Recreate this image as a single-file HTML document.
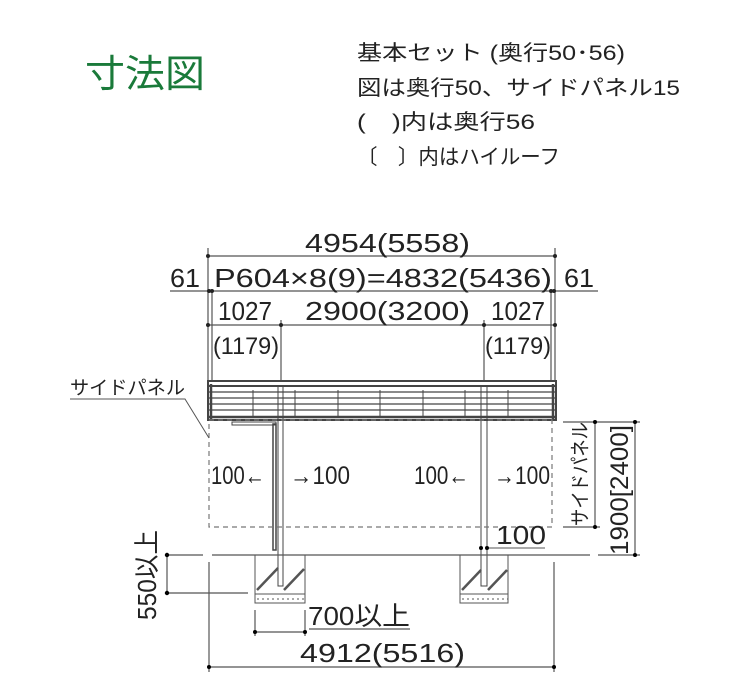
<!DOCTYPE html>
<html><head><meta charset="utf-8"><style>
html,body{margin:0;padding:0;background:#fff}
svg{display:block}
text{font-family:"Liberation Sans","Noto Sans CJK JP",sans-serif;fill:#222}
</style></head><body>
<svg width="750" height="700" viewBox="0 0 750 700" xmlns="http://www.w3.org/2000/svg">
<text x="85" y="87" font-size="38" textLength="120" lengthAdjust="spacingAndGlyphs" style="fill:#1a7a3a">寸法図</text>
<g font-size="21" style="fill:#333">
<text x="357" y="60" textLength="268" lengthAdjust="spacingAndGlyphs">基本セット (奥行50･56)</text>
<text x="357" y="95" textLength="323" lengthAdjust="spacingAndGlyphs">図は奥行50、サイドパネル15</text>
<text x="357" y="129" textLength="178" lengthAdjust="spacingAndGlyphs">(　)内は奥行56</text>
<text x="357" y="164" textLength="203" lengthAdjust="spacingAndGlyphs">〔　〕内はハイルーフ</text>
</g>
<g stroke="#555" stroke-width="1.2" fill="none">
<line x1="208" y1="248" x2="208" y2="380"/>
<line x1="555" y1="248" x2="555" y2="380"/>
<line x1="212" y1="292" x2="212" y2="380"/>
<line x1="551" y1="292" x2="551" y2="380"/>
<line x1="281" y1="320" x2="281" y2="380"/>
<line x1="484" y1="320" x2="484" y2="380"/>
<line x1="208" y1="256" x2="555" y2="256"/>
<line x1="170" y1="291" x2="598" y2="291"/>
<line x1="208" y1="325" x2="555" y2="325"/>
</g>
<g fill="#222">
<circle cx="208" cy="256" r="2"/><circle cx="555" cy="256" r="2"/>
<circle cx="209" cy="291" r="2"/><circle cx="212" cy="291" r="2"/><circle cx="551" cy="291" r="2"/><circle cx="554" cy="291" r="2"/>
<circle cx="208" cy="325" r="2"/><circle cx="281" cy="325" r="2"/><circle cx="484" cy="325" r="2"/><circle cx="555" cy="325" r="2"/>
</g>
<g font-size="26">
<text x="305" y="252" textLength="165" lengthAdjust="spacingAndGlyphs">4954(5558)</text>
<text x="214" y="287" textLength="338" lengthAdjust="spacingAndGlyphs">P604×8(9)=4832(5436)</text>
<text x="170" y="287" textLength="30" lengthAdjust="spacingAndGlyphs">61</text>
<text x="564" y="287" textLength="30" lengthAdjust="spacingAndGlyphs">61</text>
<text x="218" y="320" textLength="54" lengthAdjust="spacingAndGlyphs">1027</text>
<text x="305" y="320" textLength="165" lengthAdjust="spacingAndGlyphs">2900(3200)</text>
<text x="491" y="320" textLength="54" lengthAdjust="spacingAndGlyphs">1027</text>
<text x="213" y="354" font-size="24" textLength="66" lengthAdjust="spacingAndGlyphs">(1179)</text>
<text x="485" y="354" font-size="24" textLength="66" lengthAdjust="spacingAndGlyphs">(1179)</text>
</g>
<g stroke="#444" fill="none">
<rect x="208" y="381" width="348" height="39" stroke-width="2"/>
<line x1="208" y1="386" x2="556" y2="386" stroke-width="2"/>
<line x1="208" y1="392" x2="556" y2="392" stroke-width="1.3"/>
<line x1="208" y1="398" x2="556" y2="398" stroke-width="1.3"/>
<line x1="208" y1="404" x2="556" y2="404" stroke-width="1.3"/>
<line x1="208" y1="410" x2="556" y2="410" stroke-width="1.3"/>
<line x1="208" y1="417" x2="556" y2="417" stroke-width="2.5"/>
<line x1="211" y1="384" x2="211" y2="420" stroke-width="2.5"/>
<line x1="553" y1="384" x2="553" y2="420" stroke-width="2.5"/>
<line x1="253" y1="390" x2="253" y2="418"/><line x1="295" y1="390" x2="295" y2="418"/>
<line x1="338" y1="390" x2="338" y2="418"/><line x1="380" y1="390" x2="380" y2="418"/>
<line x1="423" y1="390" x2="423" y2="418"/><line x1="465" y1="390" x2="465" y2="418"/>
<line x1="508" y1="390" x2="508" y2="418"/>
<rect x="278" y="386" width="5" height="200"/>
<rect x="481" y="386" width="6" height="200"/>
<rect x="273" y="424" width="3" height="126" stroke-width="1.5"/>
<path d="M232 422 h44 v3 h-44z"/>
</g>
<rect x="209" y="420" width="343" height="107" fill="none" stroke="#777" stroke-width="1.2" stroke-dasharray="5,4"/>
<g font-size="25">
<text x="211" y="484" textLength="54" lengthAdjust="spacingAndGlyphs">100←</text>
<text x="290" y="484" textLength="60" lengthAdjust="spacingAndGlyphs">→100</text>
<text x="414" y="484" textLength="55" lengthAdjust="spacingAndGlyphs">100←</text>
<text x="494" y="484" textLength="56" lengthAdjust="spacingAndGlyphs">→100</text>
<text x="496" y="544" font-size="26" textLength="50" lengthAdjust="spacingAndGlyphs">100</text>
</g>
<line x1="487" y1="548" x2="545" y2="548" stroke="#555"/>
<circle cx="481" cy="548" r="2"/><circle cx="487" cy="548" r="2"/>
<text x="70" y="394" font-size="19" textLength="115" lengthAdjust="spacingAndGlyphs">サイドパネル</text>
<polyline points="70,399 185,399 209,438" fill="none" stroke="#555"/>
<g stroke="#555" stroke-width="1.2">
<line x1="167" y1="555" x2="203" y2="555"/>
<line x1="212" y1="555" x2="590" y2="555"/>
<line x1="598" y1="555" x2="640" y2="555"/>
<line x1="167" y1="593" x2="248" y2="593"/>
<line x1="167" y1="555" x2="167" y2="593"/>
</g>
<circle cx="167" cy="555" r="2.2"/><circle cx="167" cy="593" r="2.2"/>
<text transform="translate(156,575) rotate(-90)" font-size="26" text-anchor="middle" textLength="90" lengthAdjust="spacingAndGlyphs">550以上</text>
<g stroke="#555" fill="none">
<polyline points="255,555 255,603 305,603 305,555"/>
<line x1="255" y1="594" x2="305" y2="594"/>
<line x1="257" y1="590" x2="278" y2="568" stroke-width="2.5"/>
<line x1="284" y1="590" x2="304" y2="569" stroke-width="2.5"/>
<polyline points="460,555 460,603 508,603 508,555"/>
<line x1="460" y1="594" x2="508" y2="594"/>
<line x1="462" y1="590" x2="481" y2="570" stroke-width="2.5"/>
<line x1="488" y1="590" x2="507" y2="570" stroke-width="2.5"/>
</g>
<g stroke="#555" stroke-dasharray="2,3"><line x1="257" y1="599" x2="305" y2="599"/><line x1="462" y1="599" x2="508" y2="599"/></g>
<g stroke="#555" stroke-width="1.2">
<line x1="255" y1="610" x2="255" y2="636"/>
<line x1="305" y1="610" x2="305" y2="636"/>
<line x1="255" y1="632" x2="305" y2="632"/>
<line x1="309" y1="629" x2="410" y2="629"/>
<line x1="209" y1="562" x2="209" y2="672"/>
<line x1="554" y1="562" x2="554" y2="672"/>
<line x1="209" y1="667" x2="554" y2="667"/>
</g>
<circle cx="255" cy="632" r="2"/><circle cx="305" cy="632" r="2"/>
<circle cx="209" cy="667" r="2"/><circle cx="554" cy="667" r="2"/>
<text x="308" y="625" font-size="26" textLength="102" lengthAdjust="spacingAndGlyphs">700以上</text>
<text x="300" y="662" font-size="26" textLength="165" lengthAdjust="spacingAndGlyphs">4912(5516)</text>
<g stroke="#555" stroke-width="1.2">
<line x1="563" y1="422" x2="640" y2="422"/>
<line x1="563" y1="527" x2="600" y2="527"/>
<line x1="595" y1="422" x2="595" y2="527"/>
<line x1="635" y1="422" x2="635" y2="555"/>
</g>
<circle cx="595" cy="422" r="2"/><circle cx="595" cy="527" r="2"/>
<circle cx="635" cy="422" r="2"/><circle cx="635" cy="555" r="2"/>
<text transform="translate(587,474) rotate(-90)" font-size="20" text-anchor="middle" textLength="104" lengthAdjust="spacingAndGlyphs">サイドパネル</text>
<text transform="translate(628,490) rotate(-90)" font-size="25" text-anchor="middle" textLength="130" lengthAdjust="spacingAndGlyphs">1900[2400]</text>
</svg>
</body></html>
